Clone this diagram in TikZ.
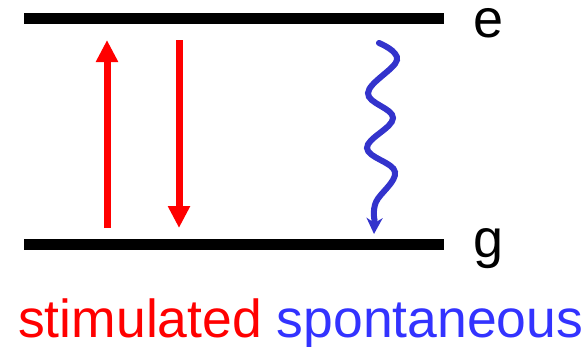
\documentclass[tikz,border=0pt]{standalone}
\usepackage{fontspec}
\setmainfont{Liberation Sans}
\usetikzlibrary{arrows.meta}
\definecolor{redc}{RGB}{255,0,0}
\definecolor{bluetext}{RGB}{51,51,255}
\definecolor{bluewave}{RGB}{51,51,204}
\begin{document}
\begin{tikzpicture}[x=1pt,y=-1pt,
  level/.style={line width=11pt,black},
  redarrow/.style={line width=7pt,redc,-{Triangle[width=21pt,length=22pt]}},
  wavearrow/.style={line width=6pt,bluewave,line cap=round,-{Stealth[width=16pt,length=16pt,inset=5pt]}},
  lab/.style={font=\fontsize{54}{54}\selectfont,anchor=base,inner sep=0pt,text height=28pt,text depth=8pt}]
\useasboundingbox (0,0) rectangle (587,346);
\coordinate (e1) at (24,18.5);
\coordinate (e2) at (444,18.5);
\coordinate (g1) at (24,244);
\coordinate (g2) at (444,244);
\draw[level] (e1) -- (e2);
\draw[level] (g1) -- (g2);
\node[lab] (elab) at (489,37) {e};
\node[lab] (glab) at (489,257) {g};
\coordinate (u1) at (107,228);
\coordinate (u2) at (107,40);
\coordinate (d1) at (179,40);
\coordinate (d2) at (179,228);
\draw[redarrow] (u1) -- (u2);
\draw[redarrow] (d1) -- (d2);
\coordinate (w0) at (379,43);
\coordinate (w7) at (374,234);
\draw[wavearrow] plot[smooth,tension=0.65] coordinates {(379,43) (397,60) (368,93) (393,118) (367,148) (395,172) (376,202) (374.5,220)} -- (w7);
\node[font=\fontsize{53.5}{53.5}\selectfont,anchor=base west,inner sep=0pt,text height=40pt,text depth=8pt] (txt) at (18,337) {\textcolor{redc}{stimulated} \textcolor{bluetext}{spontaneous}};
\end{tikzpicture}
\end{document}
